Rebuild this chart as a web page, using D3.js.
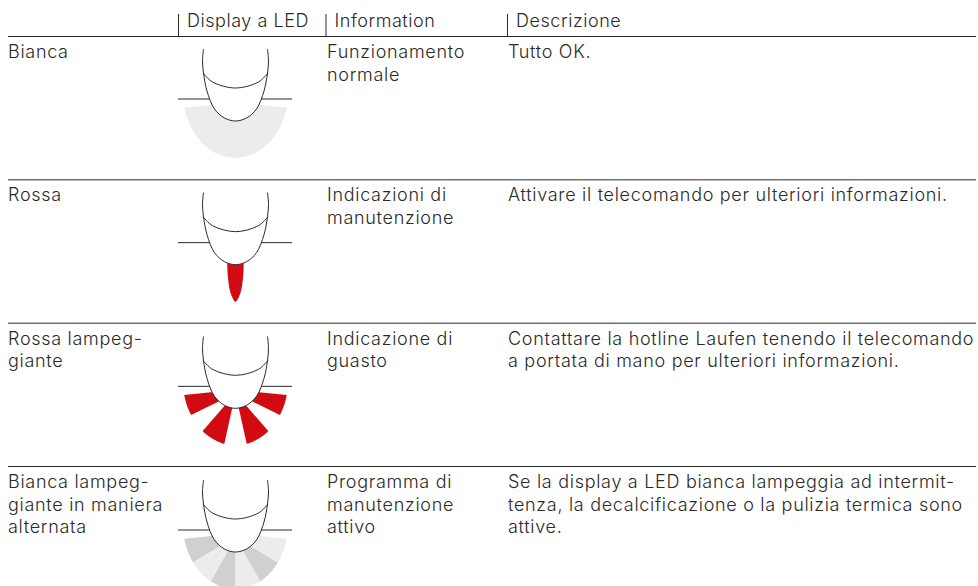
<!DOCTYPE html>
<html>
<head>
<meta charset="utf-8">
<script src="https://cdn.jsdelivr.net/npm/d3@7"></script>
<style>
  html, body { margin: 0; padding: 0; background: #fff; }
  svg { display: block; }
  text { font-family: Inter, sans-serif; font-weight: 300; font-size: 18px; letter-spacing: 0.7px; fill: #2a2a2a; }
  text.head { letter-spacing: 0.55px; }
</style>
</head>
<body>
<div id="chart"></div>
<script>
const width = 978;
const height = 586;

// Table content
const headers = ["Display a LED", "Information", "Descrizione"];
const stati = [
  ["Bianca"],
  ["Rossa"],
  ["Rossa lampeg-", "giante"],
  ["Bianca lampeg-", "giante in maniera", "alternata"]
];
const informazioni = [
  ["Funzionamento", "normale"],
  ["Indicazioni di", "manutenzione"],
  ["Indicazione di", "guasto"],
  ["Programma di", "manutenzione", "attivo"]
];
const descrizioni = [
  ["Tutto OK."],
  ["Attivare il telecomando per ulteriori informazioni."],
  ["Contattare la hotline Laufen tenendo il telecomando", "a portata di mano per ulteriori informazioni."],
  ["Se la display a LED bianca lampeggia ad intermit-", "tenza, la decalcificazione o la pulizia termica sono", "attive."]
];
const ledTipi = ["soft", "beam", "flash", "alternate"];

// Angles of the light sectors, degrees from straight down (left is negative)
const settoriPieno = [[-88, 88]];
const settoriFlash = [[-88, -64], [-41, -12.5], [12.5, 41], [64, 88]];
const settoriAlternati = [[-88, -59], [-59, -29], [-29, 0], [0, 29], [29, 59], [59, 88]];
const grigiAlternati = ["#d0d0d0", "#ececec", "#d0d0d0", "#ececec", "#d0d0d0", "#ececec"];

const red = "#d20a11";
const ink = "#2a2a2a";

const rows = d3.range(4);
const rowY = d3.scalePoint().domain(rows).range([36.5, 466.5]);
const textY = d3.scalePoint().domain(rows).range([58, 488]);
const ledY = d3.scalePoint().domain(rows).range([37, 468]);
const colX = d3.scaleOrdinal().domain(["stato", "led", "info", "desc"]).range([8, 235.5, 327, 508]);
const lineH = 22.6;

const svg = d3.select("#chart").append("svg")
  .attr("width", width)
  .attr("height", height)
  .attr("viewBox", [0, 0, width, height]);

// Header
const headerX = [178.5, 326, 507.5];
headerX.forEach((x, i) => {
  svg.append("line").attr("x1", x).attr("x2", x).attr("y1", 14).attr("y2", 36)
    .attr("stroke", ink).attr("stroke-width", 1);
  svg.append("text").attr("class", "head").attr("x", x + 8.5).attr("y", 27).text(headers[i]);
});

// Row rules
svg.selectAll("line.rule")
  .data(rows)
  .join("line")
  .attr("class", "rule")
  .attr("x1", 8).attr("x2", 976)
  .attr("y1", d => rowY(d)).attr("y2", d => rowY(d))
  .attr("stroke", ink).attr("stroke-width", 1);

function multiline(g, lines, x, y) {
  g.selectAll(null)
    .data(lines)
    .join("text")
    .attr("x", x)
    .attr("y", (d, i) => y + i * lineH)
    .text(d => d);
}

// Outer edge of the light: an ellipse, rays start from a point under the fingertip
const apexY = 69, ellY = 55, rx = 52.8, ry = 66;
function outer(deg) {
  const s = Math.sin(deg * Math.PI / 180), c = Math.cos(deg * Math.PI / 180);
  const k = apexY - ellY;
  const A = (s * s) / (rx * rx) + (c * c) / (ry * ry);
  const B = 2 * k * c / (ry * ry);
  const C = (k * k) / (ry * ry) - 1;
  const t = (-B + Math.sqrt(B * B - 4 * A * C)) / (2 * A);
  return [t * s, apexY + t * c];
}

function inner(deg) {
  // the top edge of the light rises a little towards the finger
  if (Math.abs(deg) > 85) return [Math.sign(deg) * 15, apexY - 2];
  return [0, apexY];
}

function sector(a0, a1) {
  const pts = d3.range(a0, a1 + 0.01, (a1 - a0) / 16).map(outer);
  pts.push(inner(a1));
  if (a0 < -85 && a1 > 85) pts.push([0, apexY - 2]);
  pts.push(inner(a0));
  return d3.line()(pts) + "Z";
}

function drawLed(g, tipo) {
  // horizontal slit
  g.append("line").attr("x1", -57.5).attr("x2", 56.5).attr("y1", 62).attr("y2", 62)
    .attr("stroke", ink).attr("stroke-width", 1);

  if (tipo === "soft") {
    settoriPieno.forEach(s => g.append("path").attr("d", sector(s[0], s[1])).attr("fill", "#ececec"));
  } else if (tipo === "beam") {
    const tongue = d3.line().curve(d3.curveCatmullRom)([[-8.3, 80], [-7.6, 96], [-5, 112], [0, 121], [5, 112], [7.6, 96], [8.3, 80]]);
    g.append("path").attr("d", tongue + "Z").attr("fill", red);
  } else if (tipo === "flash") {
    settoriFlash.forEach(s => g.append("path").attr("d", sector(s[0], s[1])).attr("fill", red));
  } else {
    settoriAlternati.forEach((s, i) => g.append("path").attr("d", sector(s[0], s[1])).attr("fill", grigiAlternati[i]));
  }

  // fingertip outline, white so it masks the inner end of the light
  const tip = d3.line().curve(d3.curveCatmullRom)([
    [-32, 12], [-33, 24], [-32, 36], [-28.5, 54], [-21, 72], [-11, 81], [0, 84],
    [11, 81], [21, 72], [28.5, 54], [32, 36], [33, 24], [32, 12]
  ]);
  g.append("path").attr("d", tip).attr("fill", "#fff").attr("stroke", ink).attr("stroke-width", 1);
  const nail = d3.line().curve(d3.curveCatmullRom)([[-32.5, 36], [-23, 45], [0, 51], [23, 45], [32.5, 36]]);
  g.append("path").attr("d", nail).attr("fill", "none").attr("stroke", ink).attr("stroke-width", 1);
}

rows.forEach(i => {
  multiline(svg.append("g"), stati[i], colX("stato"), textY(i));
  multiline(svg.append("g"), informazioni[i], colX("info"), textY(i));
  multiline(svg.append("g"), descrizioni[i], colX("desc"), textY(i));
  drawLed(svg.append("g").attr("transform", `translate(${colX("led")},${ledY(i)})`), ledTipi[i]);
});
</script>
</body>
</html>
